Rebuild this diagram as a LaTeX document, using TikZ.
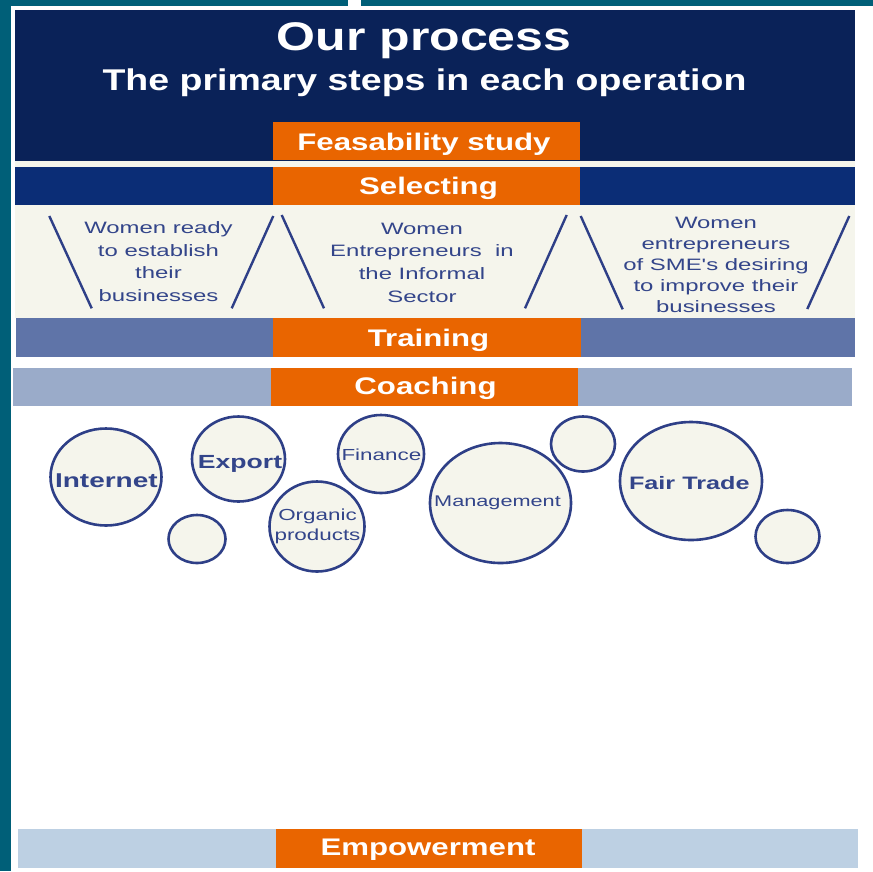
\documentclass[tikz,border=0pt]{standalone}
\usepackage{fontspec}
\setmainfont{Liberation Sans}
\newfontfamily\titlefont[FakeStretch=1.25]{Liberation Sans}
\newfontfamily\headfont[FakeStretch=1.3]{Liberation Sans}
\newfontfamily\panelfont[FakeStretch=1.45]{Liberation Sans}
\newfontfamily\circfont[FakeStretch=1.4]{Liberation Sans}
\usetikzlibrary{shapes.geometric}
\definecolor{tealbg}{HTML}{005F78}
\definecolor{navyA}{HTML}{0A2258}
\definecolor{navyB}{HTML}{0B2D76}
\definecolor{orng}{HTML}{E96500}
\definecolor{cream}{HTML}{F5F5EC}
\definecolor{trainblue}{HTML}{5F74A8}
\definecolor{coachblue}{HTML}{9AABC9}
\definecolor{empblue}{HTML}{BDD0E3}
\definecolor{linenavy}{HTML}{2E3F87}
\definecolor{textnavy}{HTML}{33458A}
\begin{document}
\begin{tikzpicture}[x=1pt,y=-1pt,
  headlabel/.style={anchor=base,inner sep=0pt,text=white,font=\headfont\bfseries\fontsize{24}{28}\selectfont},
  panellabel/.style={anchor=base,inner sep=0pt,align=center,text=textnavy},
  bubble/.style={ellipse,draw=linenavy,line width=2.6pt,fill=cream,inner sep=0pt},
  bubbletext/.style={anchor=base,inner sep=0pt,text=textnavy},
  slant/.style={draw=linenavy,line width=2.4pt}]
\useasboundingbox (0,0) rectangle (873,871);
% background frame
\fill[tealbg] (0,0) rectangle (873,871);
\fill[white] (11,6) rectangle (873,871);
\fill[white] (348,0) rectangle (361,6);
% header
\fill[navyA] (15,10) rectangle (855,161);
\node[anchor=base,inner sep=0pt,text=white,font=\titlefont\bfseries\fontsize{40}{44}\selectfont] (title) at (424,50) {Our process};
\node[anchor=base,inner sep=0pt,text=white,font=\titlefont\bfseries\fontsize{30}{34}\selectfont] (subtitle) at (424.5,90) {The primary steps in each operation};
\fill[orng] (273,122) rectangle (580,160);
\node[headlabel] (feas) at (424,150.5) {Feasability study};
% gap
\fill[cream] (15,161) rectangle (855,167);
% selecting
\fill[navyB] (15,167) rectangle (855,204.5);
\fill[orng] (273,167) rectangle (580,204.5);
\node[headlabel] (sel) at (428.5,194) {Selecting};
% cream panel
\fill[cream] (15,204.5) rectangle (855,318);
\draw[slant] (49.3,216) -- (91.7,308.3);
\draw[slant] (273.3,216) -- (231.7,308.3);
\draw[slant] (281.7,215) -- (324,308.3);
\draw[slant] (566.7,215) -- (525,308.3);
\draw[slant] (580.7,216) -- (622.7,309.3);
\draw[slant] (849.3,216) -- (807.3,309);
\node[panellabel,font=\panelfont\fontsize{16.5}{22.8}\selectfont] (p1) at (158.5,301.7) {Women ready\\to establish\\their\\businesses};
\node[panellabel,font=\panelfont\fontsize{16.5}{22.9}\selectfont] (p2) at (422,302.7) {Women\\Entrepreneurs\ \ in\\the Informal\\Sector};
\node[panellabel,font=\panelfont\fontsize{16.5}{21}\selectfont] (p3) at (716,312) {Women\\entrepreneurs\\of SME's desiring\\to improve their\\businesses};
% training
\fill[trainblue] (15.5,318) rectangle (854.5,356.5);
\fill[orng] (273,318) rectangle (580.5,356.5);
\node[headlabel] (train) at (428.5,346.7) {Training};
% coaching
\fill[coachblue] (12.5,368.3) rectangle (852,406);
\fill[orng] (271,368.3) rectangle (578,406);
\node[headlabel] (coach) at (425.5,394.5) {Coaching};
% bubbles
\node[bubble,minimum width=111pt,minimum height=97pt] (b1) at (106,477) {};
\node[bubble,minimum width=93pt,minimum height=85pt] (b2) at (238.5,459) {};
\node[bubble,minimum width=57pt,minimum height=48pt] (b3) at (197,539) {};
\node[bubble,minimum width=86pt,minimum height=78pt] (b5) at (381,454) {};
\node[bubble,minimum width=95pt,minimum height=90pt] (b4) at (317,526.5) {};
\node[bubble,minimum width=141pt,minimum height=120pt] (b6) at (500.5,503) {};
\node[bubble,minimum width=64pt,minimum height=55pt] (b7) at (583,444) {};
\node[bubble,minimum width=142pt,minimum height=118pt] (b8) at (691,481) {};
\node[bubble,minimum width=64pt,minimum height=53pt] (b9) at (787.5,536.5) {};
\node[bubbletext,font=\circfont\bfseries\fontsize{20}{24}\selectfont] (t1) at (106.4,487.3) {Internet};
\node[bubbletext,font=\circfont\bfseries\fontsize{19}{23}\selectfont] (t2) at (240,468.3) {Export};
\node[bubbletext,font=\circfont\fontsize{16}{19.5}\selectfont,align=center] (t4) at (317.5,540) {Organic\\products};
\node[bubbletext,font=\circfont\fontsize{16}{19}\selectfont] (t5) at (381.4,460) {Finance};
\node[bubbletext,font=\circfont\fontsize{15.5}{19}\selectfont] (t6) at (497.5,506) {Management};
\node[bubbletext,font=\circfont\bfseries\fontsize{18}{22}\selectfont] (t8) at (689.3,489.3) {Fair Trade};
% empowerment
\fill[empblue] (17.8,829.3) rectangle (857.5,868.3);
\fill[orng] (276,829.3) rectangle (582,868.3);
\node[headlabel] (emp) at (428,855.5) {Empowerment};
\end{tikzpicture}
\end{document}
